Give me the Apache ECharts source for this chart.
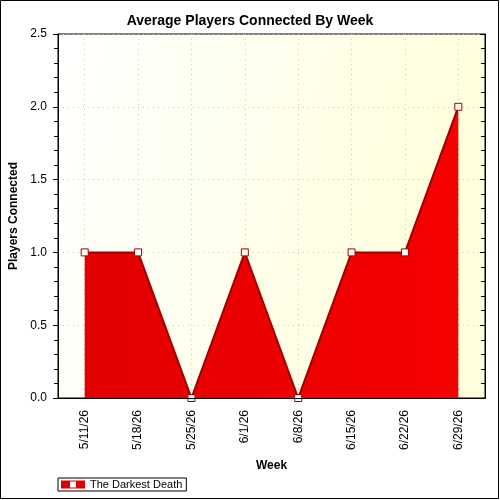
<!DOCTYPE html>
<html>
<head>
<meta charset="utf-8">
<script src="https://cdn.jsdelivr.net/npm/echarts@6/dist/echarts.min.js"></script>
<style>
	html, body { margin: 0; padding: 0; background: #fff; }
	#chart { width: 500px; height: 500px; }
</style>
</head>
<body>
<div id="chart"></div>
<script>
var weeks = ['5/11/26', '5/18/26', '5/25/26', '6/1/26', '6/8/26', '6/15/26', '6/22/26', '6/29/26'];
var players = [1, 1, 0, 1, 0, 1, 1, 2];
var seriesName = 'The Darkest Death';

var font = 'Liberation Sans, Arial, sans-serif';

// half-step slots so the vertical grid lines fall on the category centres
var gridSlots = [];
for (var i = 0; i <= weeks.length * 2; i++) gridSlots.push(String(i));

var chart = echarts.init(document.getElementById('chart'));
chart.setOption({
	animation: false,
	backgroundColor: '#fff',
	textStyle: { fontFamily: font },
	title: {
		text: 'Average Players Connected By Week',
		left: 'center',
		top: 9,
		textStyle: { fontSize: 14, fontWeight: 'bold', color: '#000', fontFamily: font }
	},
	graphic: [{
		type: 'rect',
		shape: { x: 0.5, y: 0.5, width: 498, height: 498 },
		style: { fill: 'none', stroke: '#000', lineWidth: 1 },
		silent: true
	}],
	legend: {
		left: 58,
		top: 478,
		orient: 'horizontal',
		borderColor: '#000',
		borderWidth: 1,
		borderRadius: 0,
		padding: [0, 4, 0, 3],
		itemWidth: 24,
		itemHeight: 8,
		itemGap: 6,
		textStyle: { fontSize: 11, color: '#000', fontFamily: font, lineHeight: 13 },
		data: [{
			name: seriesName,
			// red bar with a square hole for the marker
			icon: 'path://M0,0H24V8H0Z M9,1V7H15V1Z',
			itemStyle: { color: '#e00000', borderWidth: 0 }
		}]
	},
	grid: {
		left: 58,
		right: 15,
		top: 34,
		bottom: 102,
		outerBoundsMode: 'none',
		show: true,
		borderColor: '#000',
		borderWidth: 1,
		backgroundColor: new echarts.graphic.LinearGradient(0, 0, 1, 0.3, [
			{ offset: 0, color: '#ffffff' },
			{ offset: 1, color: '#ffffdc' }
		])
	},
	xAxis: [{
		type: 'category',
		data: weeks,
		boundaryGap: true,
		name: 'Week',
		nameLocation: 'middle',
		nameGap: 62,
		nameTextStyle: { fontSize: 12, fontWeight: 'bold', color: '#000' },
		axisLine: { lineStyle: { color: '#000', width: 1 } },
		axisTick: { alignWithLabel: true, length: 6, lineStyle: { color: '#000' } },
		axisLabel: { rotate: 90, fontSize: 12, color: '#000', margin: 12, interval: 0 },
		splitLine: { show: false },
		z: 5
	}, {
		type: 'category',
		data: weeks,
		position: 'top',
		boundaryGap: true,
		axisLine: { lineStyle: { color: '#000' } },
		axisTick: { alignWithLabel: true, inside: true, length: 5, lineStyle: { color: '#000' } },
		axisLabel: { show: false },
		splitLine: { show: false }
	}, {
		type: 'category',
		data: gridSlots,
		boundaryGap: false,
		position: 'bottom',
		axisLine: { show: false },
		axisTick: { show: false },
		axisLabel: { show: false },
		splitLine: {
			show: true,
			interval: function(idx) { return idx % 2 === 1; },
			lineStyle: { color: '#c8c8c8', type: [1, 4] }
		}
	}],
	yAxis: [{
		type: 'value',
		min: 0,
		max: 2.5,
		interval: 0.5,
		name: 'Players Connected',
		nameLocation: 'middle',
		nameGap: 36,
		nameTextStyle: { fontSize: 12, fontWeight: 'bold', color: '#000' },
		axisLine: { show: true, lineStyle: { color: '#000' } },
		axisTick: { show: true, length: 5, lineStyle: { color: '#000' } },
		minorTick: { show: true, splitNumber: 5, length: 4, lineStyle: { color: '#000' } },
		axisLabel: {
			fontSize: 12, color: '#000', margin: 11,
			formatter: function(v) { return v.toFixed(1); }
		},
		splitLine: { show: true, lineStyle: { color: '#c8c8c8', type: [1, 4] } }
	}, {
		type: 'value',
		min: 0,
		max: 2.5,
		interval: 0.5,
		position: 'right',
		axisLine: { show: true, lineStyle: { color: '#000' } },
		axisTick: { show: true, inside: true, length: 5, lineStyle: { color: '#000' } },
		minorTick: { show: true, splitNumber: 5, length: 4, lineStyle: { color: '#000' } },
		axisLabel: { show: false },
		splitLine: { show: false }
	}],
	series: [{
		name: seriesName,
		type: 'line',
		data: players,
		symbol: 'rect',
		symbolSize: 7,
		showAllSymbol: true,
		itemStyle: { color: '#fff', borderColor: '#a00000', borderWidth: 1 },
		lineStyle: { color: '#a00000', width: 2 },
		areaStyle: {
			opacity: 1,
			color: new echarts.graphic.LinearGradient(0, 0, 1, 0, [
				{ offset: 0, color: '#e20000' },
				{ offset: 1, color: '#f70000' }
			])
		},
		z: 3
	}]
});
</script>
</body>
</html>
